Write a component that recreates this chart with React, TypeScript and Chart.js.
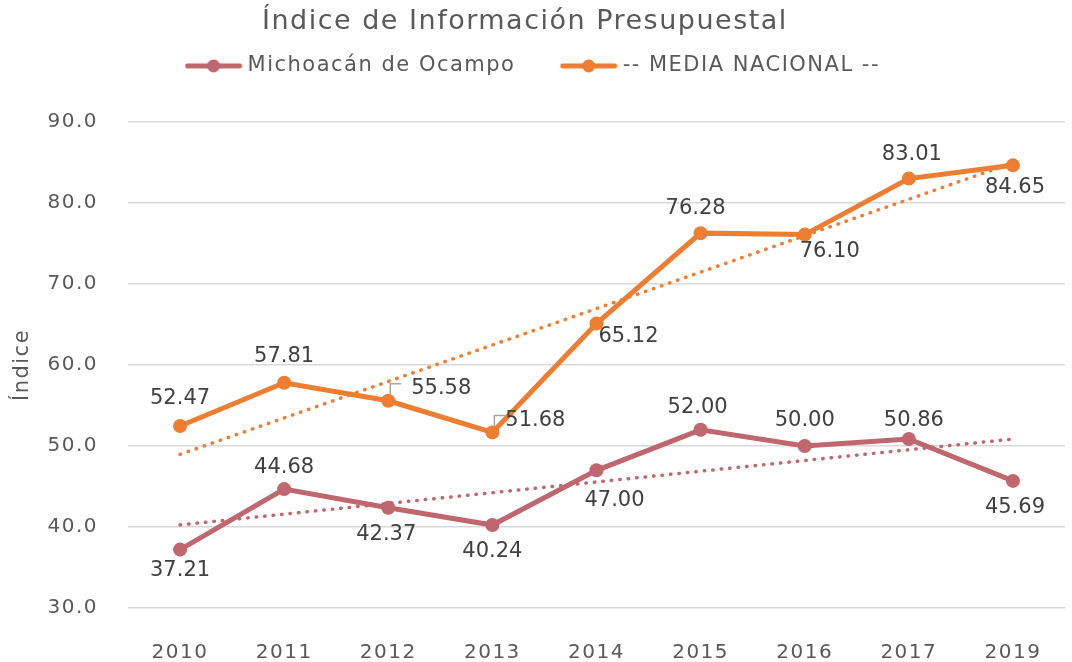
import React, { useEffect, useRef } from "react";
import { Chart, registerables } from "chart.js";

Chart.register(...registerables);

const categories = ["2010", "2011", "2012", "2013", "2014", "2015", "2016", "2017", "2019"];
const michoacan = [37.21, 44.68, 42.37, 40.24, 47.0, 52.0, 50.0, 50.86, 45.69];
const mediaNacional = [52.47, 57.81, 55.58, 51.68, 65.12, 76.28, 76.1, 83.01, 84.65];
const seriesNames = ["Michoacán de Ocampo", "-- MEDIA NACIONAL --"];
const chartTitle = "Índice de Información Presupuestal";
const yTitle = "Índice";

const RED = "#C0666E";
const ORANGE = "#ED7D31";
const TEXT = "#595959";
const LABEL = "#404040";
const FONT = "'DejaVu Sans', sans-serif";

// label offsets (dx, dy) relative to the point, styling only
const redOffsets = [[0, 21], [0, -22], [-2, 27], [0, 26], [18, 30], [-3, -22], [0, -25], [5, -18], [2, 27]];
const orangeOffsets = [[0, -27], [0, -26], [53, -12], [43, -12], [32, 13], [-5, -25], [25, 17], [3, -24], [2, 22]];
const orangeCallout = [false, false, true, true, false, false, false, false, false];

function linearTrend(values: number[]): number[] {
  const n = values.length;
  const mx = (n - 1) / 2;
  const my = values.reduce((a, b) => a + b, 0) / n;
  let num = 0;
  let den = 0;
  values.forEach((v, i) => {
    num += (i - mx) * (v - my);
    den += (i - mx) * (i - mx);
  });
  const slope = num / den;
  return values.map((_, i) => my + slope * (i - mx));
}

function legendSwatch(color: string): HTMLCanvasElement {
  const c = document.createElement("canvas");
  c.width = 58;
  c.height = 14;
  const g = c.getContext("2d")!;
  g.strokeStyle = color;
  g.lineWidth = 5;
  g.lineCap = "round";
  g.beginPath();
  g.moveTo(3, 7);
  g.lineTo(55, 7);
  g.stroke();
  g.fillStyle = color;
  g.beginPath();
  g.arc(29, 7, 6.5, 0, Math.PI * 2);
  g.fill();
  return c;
}

const spacingPlugin = {
  id: "letterSpacing",
  beforeUpdate(chart: any) {
    chart.ctx.letterSpacing = "1.5px";
  },
  beforeDraw(chart: any) {
    chart.ctx.letterSpacing = "1.5px";
  },
};

const dataLabelPlugin = {
  id: "dataLabels",
  afterDatasetsDraw(chart: any) {
    const ctx = chart.ctx;
    ctx.save();
    ctx.letterSpacing = "0px";
    ctx.font = `21px ${FONT}`;
    ctx.fillStyle = LABEL;
    ctx.textAlign = "center";
    ctx.textBaseline = "middle";
    const specs = [
      { ds: 0, values: michoacan, offsets: redOffsets, callout: null as any },
      { ds: 1, values: mediaNacional, offsets: orangeOffsets, callout: orangeCallout },
    ];
    specs.forEach((s) => {
      const meta = chart.getDatasetMeta(s.ds);
      meta.data.forEach((pt: any, i: number) => {
        const [dx, dy] = s.offsets[i];
        const x = pt.x + dx;
        const y = pt.y + dy;
        if (s.callout && s.callout[i]) {
          ctx.save();
          ctx.strokeStyle = "#A6A6A6";
          ctx.lineWidth = 1.5;
          ctx.beginPath();
          ctx.moveTo(pt.x + 2, pt.y - 6);
          ctx.lineTo(pt.x + 2, pt.y - 17);
          ctx.lineTo(pt.x + 13, pt.y - 17);
          ctx.stroke();
          ctx.restore();
        }
        ctx.fillText(s.values[i].toFixed(2), x, y);
      });
    });
    ctx.restore();
  },
};

export default function App() {
  const canvasRef = useRef<HTMLCanvasElement | null>(null);

  useEffect(() => {
    document.body.style.margin = "0";
    const canvas = canvasRef.current;
    if (!canvas) return;
    const redSwatch = legendSwatch(RED);
    const orangeSwatch = legendSwatch(ORANGE);
    const chart = new Chart(canvas, {
      type: "line",
      data: {
        labels: categories,
        datasets: [
          {
            label: seriesNames[0],
            data: michoacan,
            borderColor: RED,
            backgroundColor: RED,
            borderWidth: 5,
            pointRadius: 7,
            pointHoverRadius: 7,
            pointBackgroundColor: RED,
            pointBorderWidth: 0,
            order: 1,
          },
          {
            label: seriesNames[1],
            data: mediaNacional,
            borderColor: ORANGE,
            backgroundColor: ORANGE,
            borderWidth: 5,
            pointRadius: 7,
            pointHoverRadius: 7,
            pointBackgroundColor: ORANGE,
            pointBorderWidth: 0,
            order: 0,
          },
          {
            label: "trend1",
            data: linearTrend(michoacan),
            borderColor: RED,
            borderWidth: 3.5,
            borderDash: [0.5, 8],
            borderCapStyle: "round",
            pointRadius: 0,
            order: 3,
          },
          {
            label: "trend2",
            data: linearTrend(mediaNacional),
            borderColor: ORANGE,
            borderWidth: 3.5,
            borderDash: [0.5, 8],
            borderCapStyle: "round",
            pointRadius: 0,
            order: 2,
          },
        ],
      },
      options: {
        animation: false,
        responsive: false,
        maintainAspectRatio: false,
        layout: { padding: { left: 0, right: 2, top: 0, bottom: 0 } },
        plugins: {
          tooltip: { enabled: false },
          title: {
            display: true,
            text: chartTitle + "  ",
            color: TEXT,
            font: { family: FONT, size: 27, weight: "normal", lineHeight: 1.0 },
            padding: { top: 8.5, bottom: 2.9 },
          },
          subtitle: {
            display: true,
            text: " ",
            weight: 500,
            font: { family: FONT, size: 10 },
            padding: { top: 23.6, bottom: 0 },
          },
          legend: {
            display: true,
            position: "top",
            labels: {
              color: TEXT,
              font: { family: FONT, size: 21 },
              usePointStyle: true,
              pointStyleWidth: 47,
              padding: 17,
              generateLabels: (ch: any) =>
                ch.data.datasets.slice(0, 2).map((d: any, i: number) => ({
                  text: i === 0 ? d.label + "    " : d.label,
                  fillStyle: d.borderColor,
                  strokeStyle: d.borderColor,
                  lineWidth: 0,
                  pointStyle: i === 0 ? redSwatch : orangeSwatch,
                  hidden: false,
                  datasetIndex: i,
                  fontColor: TEXT,
                })),
            },
          },
        },
        scales: {
          x: {
            offset: true,
            grid: { display: true, color: "rgba(0,0,0,0)", drawTicks: true, tickLength: 30 },
            border: { display: false },
            ticks: { color: TEXT, font: { family: FONT, size: 20 }, padding: 3 },
            afterFit: (scale: any) => {
              scale.height = 54;
              scale.paddingLeft = 0;
              scale.paddingRight = 0;
            },
          },
          y: {
            min: 30,
            max: 90,
            grid: { color: "#D9D9D9", lineWidth: 1.5, drawTicks: false },
            border: { display: false },
            ticks: {
              stepSize: 10,
              color: TEXT,
              font: { family: FONT, size: 20 },
              padding: 30,
              callback: (v: any) => Number(v).toFixed(1),
            },
            title: {
              display: true,
              text: yTitle,
              color: TEXT,
              font: { family: FONT, size: 21 },
              padding: { top: 10, bottom: 0 },
            },
            afterFit: (scale: any) => {
              scale.width = 128;
            },
          },
        },
      },
      plugins: [spacingPlugin, dataLabelPlugin],
    } as any);
    return () => chart.destroy();
  }, []);

  return (
    <div style={{ width: 1072, height: 662 }}>
      <canvas ref={canvasRef} width={1072} height={662} style={{ display: "block" }} />
    </div>
  );
}
